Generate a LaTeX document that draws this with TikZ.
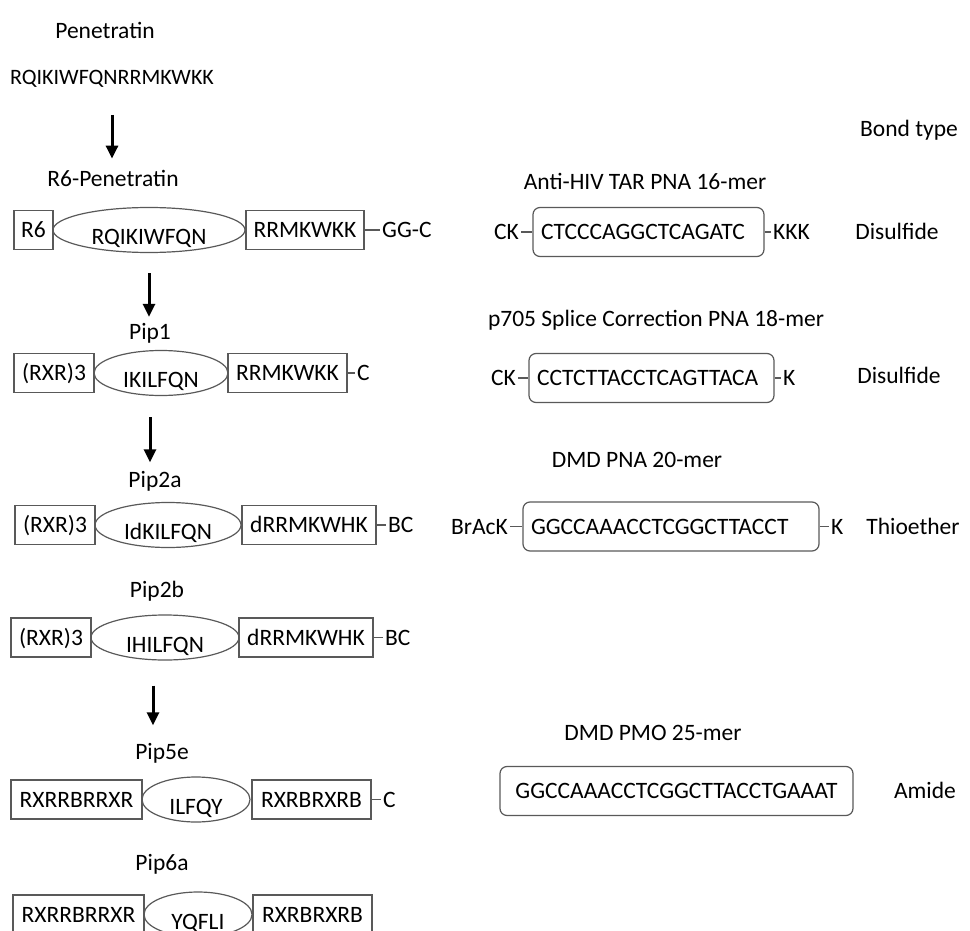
\documentclass[tikz,border=0pt]{standalone}
\usepackage{fontspec}
\setmainfont{Carlito}
\usetikzlibrary{shapes.geometric,arrows.meta}

\begin{document}
\begin{tikzpicture}[x=1pt,y=-1pt,
  font=\fontsize{23.5}{28}\selectfont,
  title/.style={inner sep=2pt},
  seg/.style={draw=black!65, line width=1.2pt, inner sep=0pt, minimum height=39pt, text height=15pt, text depth=0pt},
  loop/.style={ellipse, draw=black!65, line width=1.2pt, inner sep=0pt, minimum height=45pt, text height=29pt, text depth=0pt},
  oligo/.style={draw=black!65, line width=1.2pt, rounded corners=7pt, inner ysep=0pt, inner xsep=8pt, align=left, minimum height=49pt, text height=15pt, text depth=0pt},
  tail/.style={inner sep=2pt, text height=15pt, text depth=0pt},
  link/.style={draw=black!65, line width=1.2pt},
  evolve/.style={line width=3pt, -{Triangle[length=13pt,width=12pt]}}]
			%%%%% START %%%%%
			\useasboundingbox (0,0) rectangle (970,931);
			\clip (0,0) rectangle (970,931);
			
			\node[title] (pen) at (105,30) {Penetratin};
			\node[title, font=\fontsize{22}{26}\selectfont] (penseq) at (112,79) {RQIKIWFQNRRMKWKK};
			\node[title] (r6t) at (113,178) {R6-Penetratin};
			\node[title] (bond) at (909,130) {Bond type};
			
			% R6-Penetratin
			\node[seg, minimum width=39pt] (r6a) at (33.5,230) {R6};
			\node[loop, minimum width=192pt] (r6b) at (149,230) {RQIKIWFQN};
			\node[seg, minimum width=118pt] (r6c) at (305,230) {RRMKWKK};
			\node[tail, anchor=west] (r6d) at (380,230) {GG-C};
			\draw[link] (r6c) -- (r6d);
			
			% Pip1
			\node[title] (p1t) at (150,333) {Pip1};
			\node[seg, minimum width=80pt] (p1a) at (54,373) {(RXR)3};
			\node[loop, minimum width=134pt] (p1b) at (161,373) {IKILFQN};
			\node[seg, minimum width=119pt] (p1c) at (287.5,373) {RRMKWKK};
			\node[tail, anchor=west] (p1d) at (355,373) {C};
			\draw[link] (p1c) -- (p1d);
			
			% Pip2a
			\node[title] (p2at) at (155,481.5) {Pip2a};
			\node[seg, minimum width=80pt] (p2aa) at (55,525) {(RXR)3};
			\node[loop, minimum width=146pt] (p2ab) at (168,525) {IdKILFQN};
			\node[seg, minimum width=134pt] (p2ac) at (309,525) {dRRMKWHK};
			\node[tail, anchor=west] (p2ad) at (386,525) {BC};
			\draw[link] (p2ac) -- (p2ad);
			
			% Pip2b
			\node[title] (p2bt) at (157,591.5) {Pip2b};
			\node[seg, minimum width=80pt] (p2ba) at (51,637.5) {(RXR)3};
			\node[loop, minimum width=148pt] (p2bb) at (165,637.5) {IHILFQN};
			\node[seg, minimum width=134pt] (p2bc) at (306,637.5) {dRRMKWHK};
			\node[tail, anchor=west] (p2bd) at (383,637.5) {BC};
			\draw[link] (p2bc) -- (p2bd);
			
			% Pip5e
			\node[title] (p5t) at (162,753.5) {Pip5e};
			\node[seg, minimum width=131pt] (p5a) at (76.5,799.5) {RXRRBRRXR};
			\node[loop, minimum width=108pt] (p5b) at (196,799.5) {ILFQY};
			\node[seg, minimum width=119pt] (p5c) at (311.5,799.5) {RXRBRXRB};
			\node[tail, anchor=west] (p5d) at (381,799.5) {C};
			\draw[link] (p5c) -- (p5d);
			
			% Pip6a
			\node[title] (p6t) at (162,864) {Pip6a};
			\node[seg, minimum width=131pt] (p6a) at (78.5,914.5) {RXRRBRRXR};
			\node[loop, minimum width=108pt] (p6b) at (198,914.5) {YQFLI};
			\node[seg, minimum width=119pt] (p6c) at (312.5,914.5) {RXRBRXRB};
			
			% arrows
			\draw[evolve, shorten <=25pt, shorten >=9pt] (penseq.south) -- (penseq.south |- r6t.north);
			\draw[evolve, shorten <=20pt, shorten >=4pt] (r6b.south) -- (r6b.south |- p1t.north);
			\draw[evolve, shorten <=21pt, shorten >=7pt] ([xshift=-11pt]p1b.south) -- ([xshift=-11pt]p1b.south |- p2at.north);
			\draw[evolve, shorten <=25pt, shorten >=16pt] ([xshift=-12pt]p2bb.south) -- ([xshift=-12pt]p2bb.south |- p5t.north);
			
			% Anti-HIV TAR
			\node[title] (tart) at (645,181) {Anti-HIV TAR PNA 16-mer};
			\node[oligo, text width=215pt] (tar) at (648.5,232) {CTCCCAGGCTCAGATC};
			\node[tail, anchor=east] (tarl) at (521,232) {CK};
			\node[tail, anchor=west] (tarr) at (771,232) {KKK};
			\node[tail] (tarb) at (897,232) {Disulfide};
			\draw[link] (tarl) -- (tar);
			\draw[link] (tar) -- (tarr);
			
			% p705
			\node[title] (splt) at (656,320) {p705 Splice Correction PNA 18-mer};
			\node[oligo, text width=229pt] (spl) at (651.5,378) {CCTCTTACCTCAGTTACA};
			\node[tail, anchor=east] (spll) at (518,378) {CK};
			\node[tail, anchor=west] (splr) at (781,378) {K};
			\node[tail] (splb) at (899,376) {Disulfide};
			\draw[link] (spll) -- (spl);
			\draw[link] (spl) -- (splr);
			
			% DMD PNA
			\node[title] (pnat) at (637,459.5) {DMD PNA 20-mer};
			\node[oligo, text width=280pt] (pna) at (671,526.5) {GGCCAAACCTCGGCTTACCT};
			\node[tail, anchor=east] (pnal) at (510,526.5) {BrAcK};
			\node[tail, anchor=west] (pnar) at (829,526.5) {K};
			\node[tail] (pnab) at (913,526.5) {Thioether};
			\draw[link] (pnal) -- (pna);
			\draw[link] (pna) -- (pnar);
			
			% DMD PMO
			\node[title] (pmot) at (653,733) {DMD PMO 25-mer};
			\node[oligo, text width=337pt, align=center] (pmo) at (676.5,791) {GGCCAAACCTCGGCTTACCTGAAAT};
			\node[tail] (pmob) at (925,791) {Amide};
			%%%%% END %%%%%
\end{tikzpicture}
\end{document}
